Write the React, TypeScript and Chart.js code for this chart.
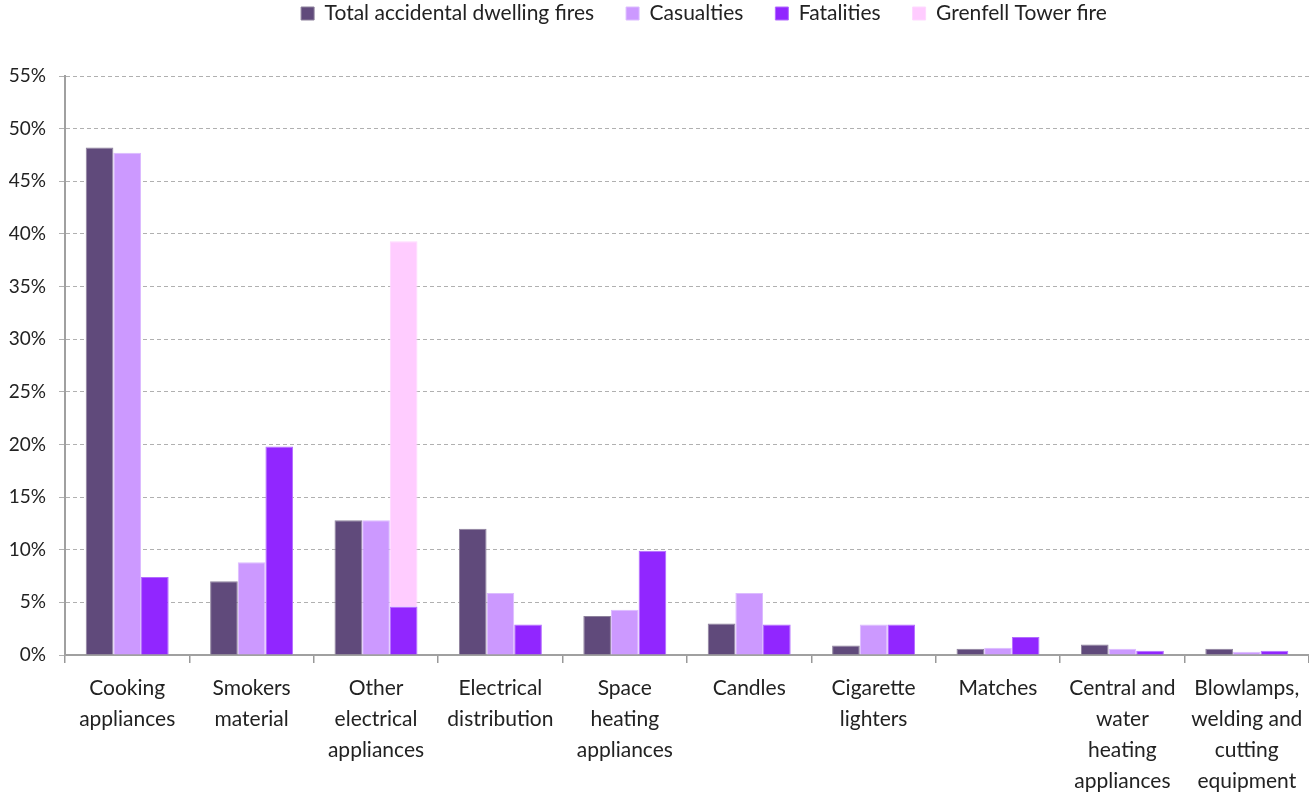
import React, { useEffect, useRef } from "react";
import { Chart, registerables } from "chart.js";

Chart.register(...registerables);

const categories: string[][] = [
  ["Cooking", "appliances"],
  ["Smokers", "material"],
  ["Other", "electrical", "appliances"],
  ["Electrical", "distribution"],
  ["Space", "heating", "appliances"],
  ["Candles"],
  ["Cigarette", "lighters"],
  ["Matches"],
  ["Central and", "water", "heating", "appliances"],
  ["Blowlamps,", "welding and", "cutting", "equipment"],
];

const totalFires = [48.2, 7.0, 12.8, 12.0, 3.7, 3.0, 0.9, 0.6, 1.0, 0.6];
const casualties = [47.7, 8.8, 12.8, 5.9, 4.3, 5.9, 2.9, 0.7, 0.6, 0.3];
const fatalities = [7.4, 19.8, 4.6, 2.9, 9.9, 2.9, 2.9, 1.7, 0.4, 0.4];
const grenfell = [null, null, 34.7, null, null, null, null, null, null, null];

const yMax = 55;
const yStep = 5;

const FONT = "Lato";

export default function App() {
  const ref = useRef<HTMLCanvasElement | null>(null);

  useEffect(() => {
    document.body.style.margin = "0";
    const canvas = ref.current;
    if (!canvas) return;

    const legendFit = {
      id: "legendFit",
      beforeInit(chart: any) {
        const orig = chart.legend.fit;
        chart.legend.fit = function () {
          orig.call(this);
          this.height = 70;
        };
      },
      afterLayout(chart: any) {
        const lg = chart.legend;
        lg.top = -29;
        lg.bottom = lg.top + lg.height;
        lg.left += 17;
        lg.right += 17;
      },
    };

    const chart = new Chart(canvas, {
      type: "bar",
      data: {
        labels: categories,
        datasets: [
          {
            label: "Total accidental dwelling fires",
            data: totalFires,
            backgroundColor: "#604A7B",
            borderColor: "#8d819c",
            borderWidth: 1,
            stack: "s1",
          },
          {
            label: "Casualties",
            data: casualties,
            backgroundColor: "#CC99FF",
            borderColor: "#dcbcff",
            borderWidth: 1,
            stack: "s2",
          },
          {
            label: "Fatalities",
            data: fatalities,
            backgroundColor: "#9126FF",
            borderColor: "#b36bff",
            borderWidth: 1,
            stack: "s3",
          },
          {
            label: "Grenfell Tower fire",
            data: grenfell as any,
            backgroundColor: "#FFCCFF",
            borderColor: "#ffd9ff",
            borderWidth: 1,
            stack: "s3",
          },
        ],
      },
      options: {
        responsive: false,
        animation: false,
        layout: { padding: { left: 7, right: 0, top: 6, bottom: 0 } },
        datasets: {
          bar: { categoryPercentage: 0.667, barPercentage: 1 },
        },
        plugins: {
          legend: {
            position: "top",
            fullSize: false,
            labels: {
              boxWidth: 13,
              boxHeight: 13,
              padding: 32,
              color: "#222",
              font: { family: FONT, size: 21 },
            },
          },
          tooltip: { enabled: false },
        },
        scales: {
          x: {
            stacked: true,
            offset: true,
            afterFit(scale: any) {
              scale.height = 140;
              scale.paddingLeft = 0;
              scale.paddingRight = 0;
            },
            grid: {
              offset: true,
              drawOnChartArea: false,
              drawTicks: true,
              tickLength: 8,
              color: "#999",
              lineWidth: 1.5,
            },
            border: { display: true, color: "#a0a0a0", width: 2 },
            ticks: {
              color: "#222",
              padding: 10,
              maxRotation: 0,
              autoSkip: false,
              font: { family: FONT, size: 21, lineHeight: 1.47 },
            },
          },
          y: {
            stacked: true,
            min: 0,
            max: yMax,
            afterFit(scale: any) {
              scale.width = 58;
            },
            grid: {
              color: "#b0b0b0",
              lineWidth: 1,
              tickLength: 6,
              drawTicks: true,
            },
            border: { display: true, color: "#a0a0a0", width: 2, dash: [4, 3] },
            ticks: {
              stepSize: yStep,
              color: "#222",
              padding: 13,
              font: { family: FONT, size: 19 },
              callback: (v: any) => v + "%",
            },
          },
        },
      },
      plugins: [legendFit],
    });

    return () => chart.destroy();
  }, []);

  return (
    <div style={{ position: "absolute", left: 0, top: 0, width: 1309, height: 795 }}>
      <canvas ref={ref} width={1309} height={795} />
    </div>
  );
}
